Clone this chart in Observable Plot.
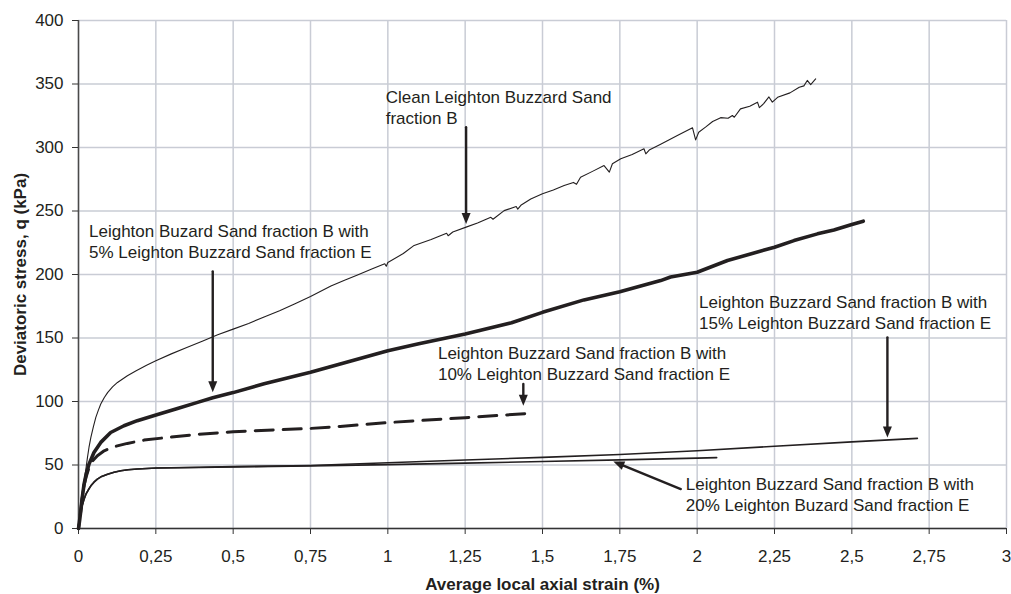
<!DOCTYPE html>
<html><head><meta charset="utf-8">
<script src="https://cdn.jsdelivr.net/npm/d3@7"></script>
<script src="https://cdn.jsdelivr.net/npm/@observablehq/plot@0.6"></script>
<style>
html,body{margin:0;padding:0;background:#fff;}
#chart svg{display:block;}
</style></head><body><div id="chart"></div>
<script>
// ---- data ----
const xTicks = [0, 0.25, 0.5, 0.75, 1, 1.25, 1.5, 1.75, 2, 2.25, 2.5, 2.75, 3];
const yTicks = [0, 50, 100, 150, 200, 250, 300, 350, 400];
const xTitle = "Average local axial strain (%)";
const yTitle = "Deviatoric stress, q (kPa)";

// Clean Leighton Buzzard Sand fraction B  [strain %, q kPa]
const clean = [
  [0,0],[0.004,9],[0.0074,19],[0.012,29],[0.018,37.6],[0.024,47],[0.029,56],[0.034,64],[0.04,71.7],
  [0.048,80],[0.056,87.5],[0.064,93],[0.072,98],[0.083,103],[0.094,107],[0.11,111.5],[0.126,115],
  [0.158,120.3],[0.185,124],[0.22,128.5],[0.25,132],[0.3,137.5],[0.35,142.5],[0.4,147.5],[0.45,152.5],
  [0.5,157],[0.55,161.5],[0.6,166.5],[0.65,171.5],[0.7,177],[0.75,182.6],[0.816,191],[0.86,195.5],
  [0.9,199.5],[0.95,204.5],[0.99,208.5],[0.995,206.5],[1.0,209.5],[1.05,216.5],[1.085,222.9],
  [1.14,227.5],[1.19,232.5],[1.195,230.5],[1.21,233.5],[1.253,237.3],[1.29,240.5],[1.333,245],
  [1.34,243.5],[1.376,250.3],[1.415,253.5],[1.42,251.5],[1.43,254.5],[1.462,259.5],[1.5,263.6],
  [1.535,266.5],[1.57,270],[1.6,272.5],[1.61,271],[1.623,276.5],[1.66,281],[1.699,285.8],[1.716,280.6],
  [1.726,287.2],[1.753,291.2],[1.79,294.5],[1.828,299],[1.834,295],[1.845,298],[1.882,302.5],
  [1.936,309.4],[1.985,315.5],[1.995,306],[2.005,312],[2.027,316],[2.05,320.5],[2.076,323.5],
  [2.1,323],[2.114,325.2],[2.12,323.8],[2.14,330.4],[2.17,332.5],[2.195,335.7],[2.201,331.4],
  [2.215,334.5],[2.232,339.8],[2.243,335.7],[2.26,339.5],[2.3,343],[2.33,347.5],[2.345,348.5],
  [2.356,352.8],[2.367,349.5],[2.383,354]
];
// B + 5% E
const mix5 = [
  [0,0],[0.004,7],[0.0074,14],[0.012,24],[0.018,35],[0.025,43],[0.034,50.7],[0.05,59.9],[0.072,67.8],
  [0.104,75.6],[0.147,80.9],[0.19,84.9],[0.253,89.6],[0.32,94.5],[0.385,99.3],[0.434,103],[0.5,107],
  [0.6,114],[0.75,123],[0.846,129.5],[1.0,140],[1.1,145.5],[1.25,153.2],[1.4,162],[1.5,170.2],
  [1.634,180],[1.75,186.5],[1.882,195.2],[1.914,198],[2.0,201.8],[2.098,211],[2.25,221.5],
  [2.313,226.7],[2.389,232],[2.442,235],[2.5,239.4],[2.537,242]
];
// B + 10% E
const mix10 = [
  [0,0],[0.004,7],[0.0074,14],[0.012,24],[0.018,34],[0.025,41],[0.034,48],[0.045,53],[0.061,57.3],
  [0.083,61.2],[0.115,64.4],[0.158,67],[0.212,69.6],[0.288,71.7],[0.39,74.2],[0.5,76.2],[0.75,78.8],
  [0.846,80.4],[1.0,83.4],[1.25,87.3],[1.45,90.5],[1.462,90]
];
// B + 15% E
const mix15 = [
  [0,0],[0.004,8],[0.008,14],[0.013,19],[0.018,23],[0.024,27],[0.032,30.5],[0.04,33.6],[0.05,36.5],
  [0.061,38.9],[0.075,41],[0.094,42.8],[0.115,44.3],[0.137,45.5],[0.16,46.2],[0.19,46.8],[0.253,47.6],
  [0.39,48.2],[0.5,48.7],[0.75,49.6],[1.0,51.8],[1.25,53.9],[1.5,56],[1.75,58.3],[2.0,61.2],
  [2.25,64.8],[2.5,68.2],[2.712,71]
];
// B + 20% E
const mix20 = [
  [0,0],[0.004,8],[0.008,14],[0.013,19],[0.018,23],[0.024,27],[0.032,30.5],[0.04,33.6],[0.05,36.5],
  [0.061,38.9],[0.075,41],[0.094,42.8],[0.115,44.3],[0.137,45.5],[0.16,46.2],[0.19,46.8],[0.253,47.6],
  [0.39,48],[0.5,48.5],[0.75,49.3],[1.0,50.3],[1.25,51.5],[1.5,52.7],[1.75,54],[2.0,55.4],[2.063,55.8]
];

// annotations (data coordinates)
const labelTexts = [
  "Clean Leighton Buzzard Sand\nfraction B",
  "Leighton Buzard Sand fraction B with\n5% Leighton Buzzard Sand fraction E",
  "Leighton Buzzard Sand fraction B with\n10% Leighton Buzzard Sand fraction E",
  "Leighton Buzzard Sand fraction B with\n15% Leighton Buzzard Sand fraction E",
  "Leighton Buzzard Sand fraction B with\n20% Leighton Buzard Sand fraction E"
];
const labelX = [0.993, 0.034, 1.162, 2.006, 1.963];
const labelY = [332, 226.7, 130.8, 170.6, 27.6];
const arrowX1 = [1.253, 0.434, 1.438, 2.615, 1.947];
const arrowY1 = [316, 202.5, 113.8, 150.5, 31.0];
const arrowX2 = [1.253, 0.434, 1.438, 2.615, 1.729];
const arrowY2 = [239.8, 107.2, 96.7, 71.7, 52.8];

// ---- build ----
const W = 1011, H = 594;
const mL = 78, mR = 5, mT = 20, mB = 66;
const ink = "#231f20";
const fmt = d => String(d).replace(".", ",");
const toRows = (arr) => arr.map(([x, q]) => ({x, q}));

const xs = Plot.scale({x: {domain: [0, 3], range: [mL, W - mR]}});
const ys = Plot.scale({y: {domain: [0, 400], range: [H - mB, mT]}});

const labels = labelTexts.map((t, i) => ({t, x: labelX[i], y: labelY[i]}));
const arrows = arrowX1.map((_, i) => {
  const dx = xs.apply(arrowX2[i]) - xs.apply(arrowX1[i]);
  const dy = ys.apply(arrowY2[i]) - ys.apply(arrowY1[i]);
  const rot = Math.atan2(-dx, dy) * 180 / Math.PI;
  return {x1: arrowX1[i], y1: arrowY1[i], x2: arrowX2[i], y2: arrowY2[i], rot};
});

// filled triangular arrowhead with its tip at the origin, pointing down
const tipDown = {
  draw(context, size) {
    const r = Math.sqrt(size / Math.PI);
    context.moveTo(0, 0);
    context.lineTo(-0.9 * r, -2.2 * r);
    context.lineTo(0.9 * r, -2.2 * r);
    context.closePath();
  }
};

const chart = Plot.plot({
  width: W, height: H,
  marginLeft: mL, marginRight: mR, marginTop: mT, marginBottom: mB,
  style: {fontFamily: "'Liberation Sans', Arial, sans-serif", fontSize: "17px", color: ink, background: "#fff"},
  x: {domain: [0, 3], label: null},
  y: {domain: [0, 400], label: null},
  marks: [
    Plot.gridX(xTicks, {stroke: "#c9ccd5", strokeOpacity: 1, strokeWidth: 1.5}),
    Plot.gridY(yTicks, {stroke: "#c9ccd5", strokeOpacity: 1, strokeWidth: 1.5}),
    Plot.ruleX([0], {stroke: "#4a4a4a", strokeWidth: 1.5}),
    Plot.ruleY([0], {stroke: "#333", strokeWidth: 1.5}),
    Plot.axisX({ticks: xTicks, tickFormat: fmt, tickSize: 6, tickPadding: 15, fontSize: 17, stroke: "#333", fill: ink, label: null}),
    Plot.axisY({ticks: yTicks, tickFormat: d => String(d), tickSize: 6, tickPadding: 9, fontSize: 17, stroke: "#333", fill: ink, label: null}),
    Plot.line(toRows(mix20), {x: "x", y: "q", stroke: ink, strokeWidth: 1.6}),
    Plot.line(toRows(mix15), {x: "x", y: "q", stroke: ink, strokeWidth: 1.6}),
    Plot.line(toRows(mix10), {x: "x", y: "q", stroke: ink, strokeWidth: 3, strokeDasharray: "18,10", strokeDashoffset: -14}),
    Plot.line(toRows(mix5), {x: "x", y: "q", stroke: ink, strokeWidth: 3.6}),
    Plot.line(toRows(clean), {x: "x", y: "q", stroke: ink, strokeWidth: 1.1}),
    Plot.arrow(arrows, {x1: "x1", y1: "y1", x2: "x2", y2: "y2", stroke: ink, strokeWidth: 2.4, headLength: 0, insetEnd: 9, bend: 0}),
    Plot.dot(arrows, {x: "x2", y: "y2", symbol: tipDown, r: 5, fill: ink, stroke: "none", rotate: "rot"}),
    Plot.text(labels, {x: "x", y: "y", text: "t", textAnchor: "start", lineAnchor: "middle", lineHeight: 1.24, fontSize: 17, fill: ink}),
    Plot.text([xTitle], {text: d => d, frameAnchor: "bottom", textAnchor: "middle", lineAnchor: "middle", dy: 56, fontSize: 17, fontWeight: "bold", fill: ink}),
    Plot.text([yTitle], {text: d => d, frameAnchor: "left", textAnchor: "middle", lineAnchor: "middle", rotate: -90, dx: -58, fontSize: 17, fontWeight: "bold", fill: ink})
  ]
});
document.getElementById("chart").appendChild(chart);
</script></body></html>
